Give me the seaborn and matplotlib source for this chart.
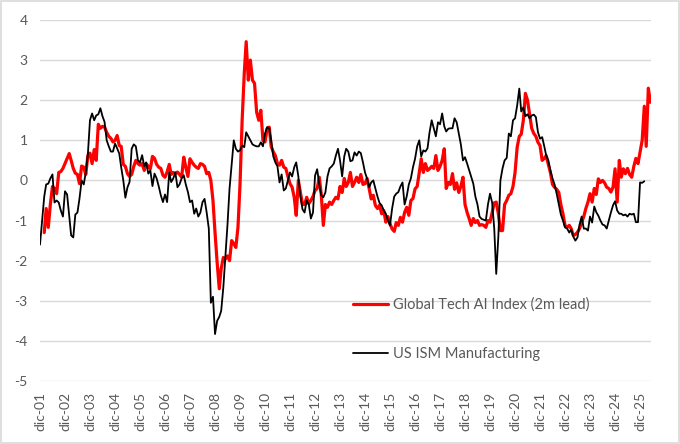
import pandas as pd
import numpy as np
import matplotlib
matplotlib.use('Agg')
import matplotlib.pyplot as plt
import seaborn as sns
from matplotlib.patches import Rectangle

# US ISM Manufacturing (standardised), monthly from Dec 2001
ism_start = "2001-12-01"
ism = [
    -1.6, -1.0, -0.4, -0.1, -0.08, 0.05, 0.15, -0.55, -0.5, -0.55, -0.75, -0.9,
    -0.27, -0.35, -0.9, -1.37, -1.42, -0.85, -0.8, -0.45, 0.0, -0.1, 0.2, 0.67,
    1.5, 1.67, 1.5, 1.62, 1.65, 1.8, 1.6, 1.46, 1.0, 0.85, 0.72, 0.72,
    0.92, 0.8, 0.67, 0.33, 0.0, -0.43, -0.17, -0.04, 0.79, 0.9, 0.85, 0.5,
    0.45, 0.63, 0.35, 0.45, 0.17, 0.25, -0.14, 0.17, 0.05, -0.15, -0.37, -0.54,
    -0.35, -0.54, 0.2, -0.04, 0.05, 0.2, -0.17, -0.1, 0.05, 0.13, -0.1, -0.29,
    -0.54, -0.5, -0.83, -0.7, -0.9, -0.8, -0.54, -0.46, -0.8, -1.2, -3.05, -2.9,
    -3.83, -3.5, -3.4, -3.25, -2.67, -1.9, -1.1, -0.2, 0.4, 1.0, 0.79, 0.72,
    0.75, 0.87, 0.83, 1.2, 1.1, 1.0, 0.9, 0.87, 0.85, 0.85, 0.95, 0.85,
    1.17, 1.33, 1.3, 1.0, 0.6, 0.45, 0.35, -0.05, 0.15, -0.25, -0.2, 0.0,
    0.2, 0.1, 0.33, 0.45, 0.1, -0.4, -0.72, -0.8, -0.5, -0.6, -0.95, -0.8,
    0.12, 0.28, -0.1, -0.37, -0.42, -0.3, 0.1, 0.3, 0.35, 0.42, 0.62, 0.79,
    0.5, 0.1, 0.6, 0.79, 0.72, 0.48, 0.5, 0.7, 0.62, 0.72, 0.68, 0.45,
    0.2, 0.04, -0.17, -0.05, 0.0, -0.2, -0.4, -0.56, -0.62, -0.75, -0.83, -1.0,
    -1.12, -0.7, -0.4, -0.33, -0.29, -0.15, -0.05, -0.6, -0.4, -0.1, 0.05, 0.33,
    0.54, 0.85, 1.0, 0.6, 0.75, 0.72, 0.8, 1.2, 1.5, 1.3, 1.1, 1.45,
    1.4, 1.67, 1.35, 1.22, 1.29, 1.3, 1.3, 1.55, 1.45, 1.17, 0.9, 0.5,
    0.58, 0.42, 0.25, 0.1, -0.08, -0.4, -0.6, -0.9, -0.96, -0.98, -1.0, -0.6,
    -0.33, -0.55, -1.2, -2.33, -1.4, 0.0, 0.3, 0.5, 0.56, 1.17, 1.1, 1.5,
    1.55, 1.87, 2.29, 1.72, 1.82, 1.6, 1.65, 1.55, 1.62, 1.64, 1.58, 1.2,
    1.04, 1.08, 0.85, 0.62, 0.5, 0.25, 0.05, -0.1, -0.33, -0.6, -0.85, -1.0,
    -1.17, -1.2, -1.3, -1.22, -1.4, -1.5, -1.42, -1.1, -0.9, -1.2, -1.2, -1.25,
    -0.9, -1.05, -0.65, -0.79, -0.88, -1.0, -1.1, -1.12, -1.2, -1.0, -0.8, -0.62,
    -0.52, -0.75, -0.83, -0.83, -0.87, -0.85, -0.9, -0.83, -0.85, -0.83, -1.04, -1.04,
    -0.05, -0.06, -0.02,
]

# Global Tech AI Index (2m lead), monthly from Feb 2002
tech_start = "2002-02-01"
tech = [
    -1.3, -0.7, -1.17, -0.6, -0.15, -0.2, -0.33, 0.2, 0.22, 0.3,
    0.42, 0.55, 0.67, 0.5, 0.3, 0.18, 0.15, -0.08, 0.36, 0.33, 0.15, 0.63,
    0.68, 0.42, 0.77, 0.5, 1.4, 1.3, 1.35, 1.33, 1.2, 1.1, 1.05, 0.96,
    1.0, 1.12, 0.87, 0.85, 0.4, 0.35, 0.17, 0.1, 0.15, 0.35, 0.5, 0.42,
    0.38, 0.42, 0.25, 0.42, 0.35, 0.29, 0.6, 0.55, 0.4, 0.33, 0.3, 0.13,
    0.08, 0.21, 0.4, 0.15, 0.2, 0.17, 0.21, 0.15, 0.08, 0.58, 0.33, 0.1,
    0.54, 0.45, 0.38, 0.33, 0.3, 0.42, 0.4, 0.35, 0.17, 0.2, 0.0, -0.5,
    -1.3, -2.05, -2.7, -2.2, -1.92, -1.96, -1.88, -2.0, -1.5, -1.58, -1.67, -1.17,
    -0.1, 1.5, 2.67, 3.46, 2.5, 3.0, 2.5, 2.42, 1.7, 1.5, 1.75, 1.0,
    0.96, 1.29, 1.33, 0.85, 0.71, 0.62, 0.42, 0.38, 0.5, 0.33, 0.3, 0.1,
    -0.08, -0.17, -0.42, -0.87, 0.0, -0.3, -0.6, -0.6, -0.42, -0.58, -0.5, -0.4,
    -0.25, -0.2, 0.08, -0.33, -1.12, -0.6, -0.67, -0.54, -0.6, -0.5, -0.42, -0.46,
    -0.15, -0.3, 0.05, -0.15, -0.05, 0.2, -0.15, -0.05, 0.08, -0.05, 0.15, -0.1,
    -0.08, 0.05, -0.22, -0.46, -0.37, -0.62, -0.7, -0.62, -0.83, -0.75, -1.04, -0.9,
    -1.08, -1.21, -1.27, -1.05, -1.12, -0.92, -1.04, -0.8, -0.67, -0.87, -0.5, -0.45,
    -0.21, -0.15, 0.2, 0.54, 0.2, 0.42, 0.25, 0.29, 0.35, 0.3, 0.62, 0.25,
    0.35, 0.5, 0.79, -0.2, -0.05, -0.1, 0.17, -0.22, -0.06, -0.3, -0.15, 0.08,
    -0.6, -0.8, -0.96, -1.12, -0.95, -1.05, -1.0, -1.12, -1.1, -1.12, -1.17, -1.0,
    -1.04, -0.8, -0.56, -0.54, -0.83, -1.25, -1.25, -0.6, -0.5, -0.37, -0.33, -0.15,
    0.2, 0.83, 1.1, 1.15, 1.5, 2.17, 2.0, 1.65, 1.3, 1.17, 1.1, 0.95,
    0.87, 0.5, 0.55, 0.62, 0.4, 0.2, -0.1, -0.17, -0.22, -0.3, -0.6, -0.83,
    -1.12, -1.17, -1.12, -1.2, -1.37, -1.35, -1.29, -1.2, -1.05, -0.9, -0.7, -0.54,
    -0.33, -0.54, -0.2, -0.35, 0.04, -0.05, 0.0, -0.06, -0.17, -0.2, -0.29, -0.17,
    0.29, -0.54, 0.5, 0.08, 0.29, 0.17, 0.3, 0.15, 0.08, 0.35, 0.55, 0.42,
    0.7, 1.0, 1.85, 0.85, 2.3, 1.95,
]

tick_years = list(range(2001, 2026))
tick_labels = ["dic-%02d" % (y % 100) for y in tick_years]
y_ticks = [-5, -4, -3, -2, -1, 0, 1, 2, 3, 4]

label_tech = "Global Tech AI Index (2m lead)"
label_ism = "US ISM Manufacturing"

df_ism = pd.DataFrame({"date": pd.date_range(ism_start, periods=len(ism), freq="MS"), "value": ism})
df_tech = pd.DataFrame({"date": pd.date_range(tech_start, periods=len(tech), freq="MS"), "value": tech})

sns.set_style("white")
plt.rcParams['font.family'] = ['Lato', 'DejaVu Sans']
plt.rcParams['axes.unicode_minus'] = False

fig = plt.figure(figsize=(6.8, 4.44), dpi=100)
ax = fig.add_axes([40 / 680, 1 - 381 / 444, 611 / 680, 361 / 444])

for y in y_ticks:
    ax.axhline(y, color="#d9d9d9", lw=1.0, zorder=0)

sns.lineplot(data=df_tech, x="date", y="value", ax=ax, color="#ff0000", lw=2.3, label=label_tech)
sns.lineplot(data=df_ism, x="date", y="value", ax=ax, color="#000000", lw=1.3, label=label_ism)

ax.set_ylim(-5, 4)
ax.set_xlim(pd.Timestamp("2001-12-01"), pd.Timestamp("2026-05-10"))
ax.set_yticks(y_ticks)
ax.set_yticklabels([str(v) for v in y_ticks])
ax.set_xticks([pd.Timestamp(y, 12, 1) for y in tick_years])
ax.set_xticklabels(tick_labels, rotation=90)
ax.tick_params(axis="both", length=0, labelsize=10, labelcolor="#595959")
ax.tick_params(axis="y", pad=9)
ax.tick_params(axis="x", pad=8)
ax.set_xlabel("")
ax.set_ylabel("")
for s in ax.spines.values():
    s.set_visible(False)
ax.grid(False)

ax.legend(loc="upper left", bbox_to_anchor=(0.5, 0.252), frameon=False,
          borderpad=0, handlelength=2.4, handletextpad=0.35, labelspacing=2.45,
          fontsize=10.5, labelcolor="#595959")

fig.patches.append(Rectangle((0.002, 0.003), 0.996, 0.994, transform=fig.transFigure,
                             fill=False, edgecolor="#d9d9d9", lw=1.2))

fig.savefig("out.png", dpi=100)
